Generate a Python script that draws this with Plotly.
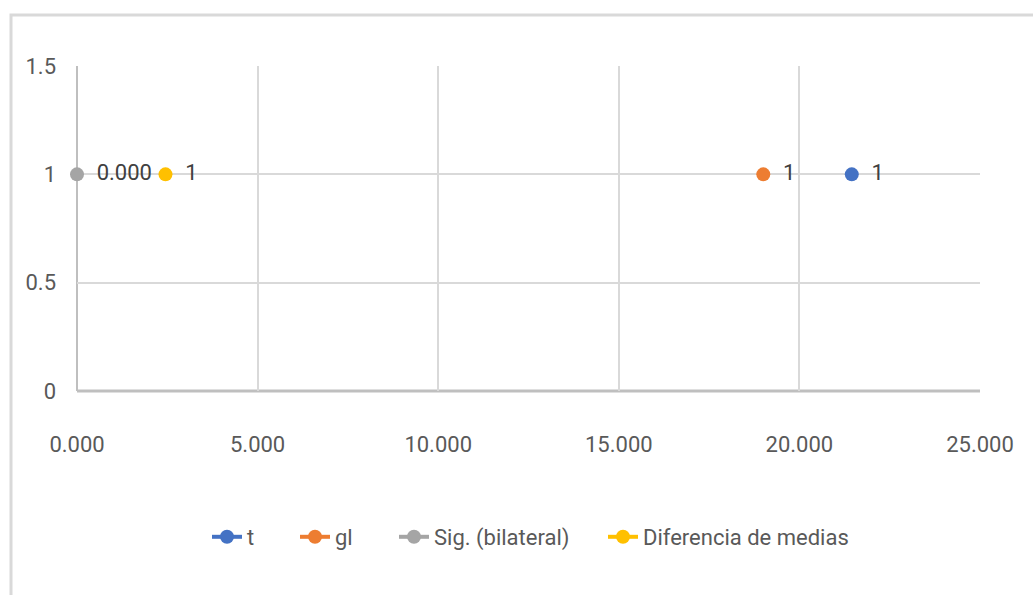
import plotly.graph_objects as go

# Independent-samples t-test summary, each statistic plotted at y = 1
series_names = ["t", "gl", "Sig. (bilateral)", "Diferencia de medias"]
x_values = [21.45, 19.0, 0.0, 2.45]
y_values = [1, 1, 1, 1]
point_labels = ["1", "1", "0.000", "1"]
series_colors = ["#4472C4", "#ED7D31", "#A5A5A5", "#FFC000"]

x_ticks = [0, 5, 10, 15, 20, 25]
x_tick_text = ["0.000", "5.000", "10.000", "15.000", "20.000", "25.000"]
y_ticks = [0, 0.5, 1, 1.5]
y_tick_text = ["0", "0.5", "1", "1.5"]

FONT = "Roboto, Liberation Sans, sans-serif"

W, H = 1033, 595
L, R, T, B = 77, 53, 66, 204
pw, ph = W - L - R, H - T - B


def px_x(p):
    return (p - L) / pw


def px_y(p):
    return (H - B - p) / ph


# left edge (px) of each legend entry, in the same order as the series
legend_left_px = [215, 303, 402, 611]

fig = go.Figure()
legend_layouts = {}
for i, (name, x, y, lab, col) in enumerate(
        zip(series_names, x_values, y_values, point_labels, series_colors)):
    lg = "legend" if i == 0 else f"legend{i + 1}"
    fig.add_trace(go.Scatter(
        x=[x], y=[y], name=name,
        mode="lines+markers+text",
        text=["\u00a0\u2009" + lab], textposition="middle right",
        textfont=dict(family=FONT, size=22, color="#404040"),
        marker=dict(color=col, size=14),
        line=dict(color=col, width=4),
        cliponaxis=False,
        legend=lg,
    ))
    legend_layouts[lg] = dict(
        x=px_x(legend_left_px[i] - 8), xanchor="left",
        y=px_y(537), yanchor="middle",
        bgcolor="rgba(0,0,0,0)",
        font=dict(family=FONT, size=22, color="#595959"),
        itemwidth=30,
    )

fig.update_layout(
    width=W, height=H,
    margin=dict(l=L, r=R, t=T, b=B),
    paper_bgcolor="white", plot_bgcolor="white",
    font=dict(family=FONT, size=22, color="#595959"),
    showlegend=True,
    xaxis=dict(
        range=[0, 25], tickvals=x_ticks, ticktext=x_tick_text,
        showgrid=True, gridcolor="#d9d9d9", gridwidth=2,
        zeroline=False, showline=False, ticks="",
        ticklabelstandoff=38,
        tickfont=dict(family=FONT, size=22, color="#595959"),
    ),
    yaxis=dict(
        range=[0, 1.5], tickvals=y_ticks, ticktext=y_tick_text,
        showgrid=True, gridcolor="#d9d9d9", gridwidth=2,
        zeroline=False, showline=False, ticks="",
        ticklabelstandoff=20,
        tickfont=dict(family=FONT, size=22, color="#595959"),
    ),
    shapes=[
        # outer chart frame
        dict(type="rect", xref="paper", yref="paper",
             x0=px_x(11), x1=px_x(1045), y0=px_y(610), y1=px_y(15),
             line=dict(color="#d9d9d9", width=3), layer="below"),
        # axis lines
        dict(type="line", xref="paper", yref="paper", x0=0, x1=1, y0=0, y1=0,
             line=dict(color="#bfbfbf", width=3), layer="below"),
        dict(type="line", xref="paper", yref="paper", x0=0, x1=0, y0=0, y1=1,
             line=dict(color="#bfbfbf", width=2), layer="below"),
    ],
    **legend_layouts,
)

fig.write_html("out.html")
